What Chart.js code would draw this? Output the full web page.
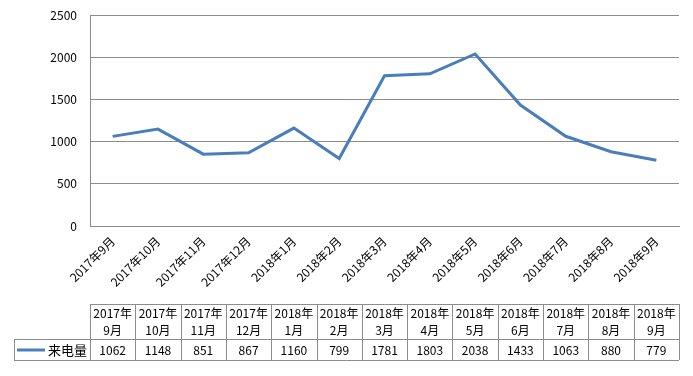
<!DOCTYPE html>
<html>
<head>
<meta charset="utf-8">
<script src="https://cdn.jsdelivr.net/npm/chart.js@4/dist/chart.umd.min.js"></script>
<style>
  html, body { margin: 0; padding: 0; background: #fff; }
  #wrap { width: 693px; height: 376px; position: relative; }
</style>
</head>
<body>
<div id="wrap"><canvas id="c" width="693" height="376"></canvas></div>
<script>
// ---- data ----
const categories = [
  "2017年9月", "2017年10月", "2017年11月", "2017年12月",
  "2018年1月", "2018年2月", "2018年3月", "2018年4月", "2018年5月",
  "2018年6月", "2018年7月", "2018年8月", "2018年9月",
];
const seriesName = "来电量";
const callVolume = [1062, 1148, 851, 867, 1160, 799, 1781, 1803, 2038, 1433, 1063, 880, 779];
const yTicks = [0, 500, 1000, 1500, 2000, 2500];

const LINE_COLOR = "#4a7ebb";
const GRID_COLOR = "#8c8c8c";
const FONT = "'Noto Sans CJK SC', 'DejaVu Sans', sans-serif";

// Excel-style data table under the x axis, columns follow the x scale
const dataTablePlugin = {
  id: "dataTable",
  afterDraw(chart) {
    const { ctx, chartArea, scales } = chart;
    const x = scales.x;
    const step = x.getPixelForValue(1) - x.getPixelForValue(0);
    const left = chartArea.left;
    const right = chartArea.right;
    const top = chartArea.bottom + 78;
    const mid = top + 35;
    const bottom = mid + 21;
    const legendLeft = 14;

    ctx.save();
    ctx.strokeStyle = GRID_COLOR;
    ctx.lineWidth = 1;
    ctx.beginPath();
    ctx.moveTo(left, top + 0.5); ctx.lineTo(right, top + 0.5);
    ctx.moveTo(legendLeft, mid + 0.5); ctx.lineTo(right, mid + 0.5);
    ctx.moveTo(legendLeft, bottom + 0.5); ctx.lineTo(right, bottom + 0.5);
    ctx.moveTo(legendLeft + 0.5, mid); ctx.lineTo(legendLeft + 0.5, bottom);
    for (let i = 0; i <= categories.length; i++) {
      const px = Math.round(left + i * step) + 0.5;
      ctx.moveTo(px, top); ctx.lineTo(px, bottom);
    }
    ctx.stroke();

    // legend key
    ctx.strokeStyle = LINE_COLOR;
    ctx.lineWidth = 3;
    ctx.beginPath();
    ctx.moveTo(legendLeft + 3, mid + 11);
    ctx.lineTo(legendLeft + 31, mid + 11);
    ctx.stroke();

    ctx.fillStyle = "#000";
    ctx.textBaseline = "middle";
    ctx.font = "13px " + FONT;
    ctx.textAlign = "left";
    ctx.fillText(seriesName, legendLeft + 34, mid + 11);

    ctx.font = "12px " + FONT;
    ctx.textAlign = "center";
    categories.forEach((cat, i) => {
      const cx = x.getPixelForValue(i);
      const k = cat.indexOf("年");
      ctx.fillText(cat.slice(0, k + 1), cx, top + 9);
      ctx.fillText(cat.slice(k + 1), cx, top + 26);
      ctx.fillText(String(callVolume[i]), cx, mid + 11);
    });
    ctx.restore();
  },
};

new Chart(document.getElementById("c"), {
  type: "line",
  data: {
    labels: categories,
    datasets: [{
      label: seriesName,
      data: callVolume,
      borderColor: LINE_COLOR,
      borderWidth: 3,
      pointRadius: 0,
      tension: 0,
      fill: false,
    }],
  },
  options: {
    responsive: false,
    animation: false,
    devicePixelRatio: 1,
    layout: { padding: { left: 0, right: 14, top: 15, bottom: 80 } },
    plugins: { legend: { display: false }, tooltip: { enabled: false } },
    scales: {
      x: {
        offset: true,
        grid: { display: false, drawTicks: false },
        border: { display: true, color: GRID_COLOR, width: 1 },
        ticks: {
          minRotation: 45,
          maxRotation: 45,
          autoSkip: false,
          padding: 8,
          color: "#000",
          font: { family: FONT, size: 12 },
        },
        afterFit: (scale) => { scale.height = 70; },
      },
      y: {
        min: 0,
        max: 2500,
        afterBuildTicks: (scale) => { scale.ticks = yTicks.map((v) => ({ value: v })); },
        grid: { color: GRID_COLOR, drawTicks: false },
        border: { display: true, color: GRID_COLOR, width: 1 },
        ticks: {
          padding: 13,
          color: "#000",
          font: { family: FONT, size: 12 },
          callback: (v) => String(v),
        },
        afterFit: (scale) => {
          scale.width = 90;
          scale.paddingTop = 0;
          scale.paddingBottom = 0;
        },
      },
    },
  },
  plugins: [dataTablePlugin],
});
</script>
</body>
</html>
